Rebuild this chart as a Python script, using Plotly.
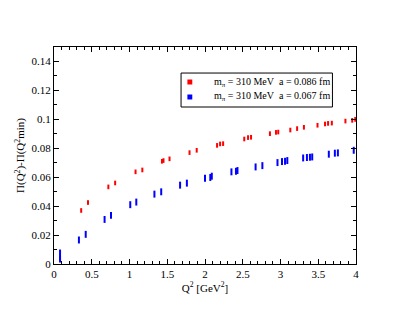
import plotly.graph_objects as go

# Red series: m_pi = 310 MeV, a = 0.086 fm
red_q2 = [0.08, 0.36, 0.45, 0.72, 0.81, 1.08, 1.17, 1.43, 1.45, 1.53, 1.795, 1.89,
          2.16, 2.20, 2.24, 2.52, 2.57, 2.61, 2.86, 2.94, 2.97, 3.13, 3.22, 3.31,
          3.49, 3.59, 3.63, 3.68, 3.86, 3.95, 3.99]
red_val = [0.004, 0.037, 0.0425, 0.0533, 0.056, 0.0637, 0.065, 0.071, 0.0715, 0.0727,
           0.077, 0.0786, 0.082, 0.083, 0.0832, 0.0864, 0.0874, 0.0876, 0.0901, 0.091,
           0.0912, 0.0926, 0.0936, 0.0945, 0.0959, 0.0968, 0.0972, 0.0974, 0.0988,
           0.0993, 0.100]
red_err = [0.0015] + [0.0016] * 30

# Blue series: m_pi = 310 MeV, a = 0.067 fm
blue_q2 = [0.08, 0.33, 0.42, 0.67, 0.755, 1.01, 1.09, 1.33, 1.42, 1.67, 1.76, 2.00,
           2.07, 2.09, 2.35, 2.41, 2.43, 2.67, 2.76, 2.96, 3.02, 3.06, 3.09, 3.30,
           3.35, 3.39, 3.42, 3.64, 3.72, 3.76, 3.97]
blue_val = [0.0055, 0.0166, 0.0205, 0.0308, 0.0336, 0.041, 0.0428, 0.0483, 0.0499,
            0.0545, 0.0559, 0.0593, 0.0598, 0.0607, 0.0637, 0.0641, 0.0646, 0.0671,
            0.068, 0.0701, 0.0708, 0.071, 0.0715, 0.0733, 0.0736, 0.0738, 0.074,
            0.0759, 0.0766, 0.0768, 0.0786]
blue_err = [0.0045] + [0.0024] * 30

series_labels = ["m<sub>π</sub> = 310 MeV\u00a0\u00a0a = 0.086 fm",
                 "m<sub>π</sub> = 310 MeV\u00a0\u00a0a = 0.067 fm"]

RED = "#ff0000"
BLUE = "#0000ff"
colors = [RED, BLUE]
FONT = "Liberation Serif"

fig = go.Figure()
for xs, ys, es, col, lab in [(red_q2, red_val, red_err, RED, series_labels[0]),
                             (blue_q2, blue_val, blue_err, BLUE, series_labels[1])]:
    fig.add_trace(go.Scatter(
        x=xs, y=ys, mode="markers", name=lab,
        marker=dict(size=1, color=col, opacity=0),
        error_y=dict(type="data", array=es, visible=True, color=col, thickness=2, width=0),
        showlegend=False, hoverinfo="x+y"))

axis_common = dict(
    showline=True, linecolor="black", linewidth=1, mirror="ticks",
    ticks="inside", ticklen=5, tickcolor="black", tickwidth=1,
    showgrid=False, zeroline=False,
    tickfont=dict(family=FONT, size=11, color="black"),
)

fig.update_xaxes(range=[0, 4], dtick=0.5, tick0=0,
                 minor=dict(dtick=0.1, ticks="inside", ticklen=3, tickcolor="black"),
                 title=dict(text="Q<sup>2</sup> [GeV<sup>2</sup>]", standoff=3,
                            font=dict(family=FONT, size=11, color="black")),
                 **axis_common)
fig.update_yaxes(range=[0, 0.15], dtick=0.02, tick0=0,
                 minor=dict(dtick=0.01, ticks="inside", ticklen=3, tickcolor="black"),
                 title=dict(text="Π(Q<sup>2</sup>)-Π(Q<sup>2</sup>min)", standoff=4,
                            font=dict(family=FONT, size=11, color="black")),
                 **axis_common)

# Legend box drawn manually (border, colour squares, labels)
fig.add_shape(type="rect", xref="paper", yref="paper",
              x0=0.4207, x1=0.922, y0=0.7235, y1=0.880,
              line=dict(color="black", width=1), fillcolor="white", layer="above")
row_y = [0.8387, 0.7696]
for yc, col, lab in zip(row_y, colors, series_labels):
    fig.add_shape(type="rect", xref="paper", yref="paper",
                  x0=0.4417, x1=0.4579, y0=yc - 0.0115, y1=yc + 0.0115,
                  line=dict(width=0), fillcolor=col, layer="above")
    fig.add_annotation(text=lab, xref="paper", yref="paper", x=0.524, y=yc,
                       xanchor="left", yanchor="middle", showarrow=False,
                       font=dict(family=FONT, size=10, color="black"))

fig.update_layout(
    width=394, height=302,
    margin=dict(l=39, r=46, t=39, b=46),
    paper_bgcolor="white", plot_bgcolor="white",
    font=dict(family=FONT, size=10, color="black"),
    showlegend=False,
)

fig.write_html("out.html")
